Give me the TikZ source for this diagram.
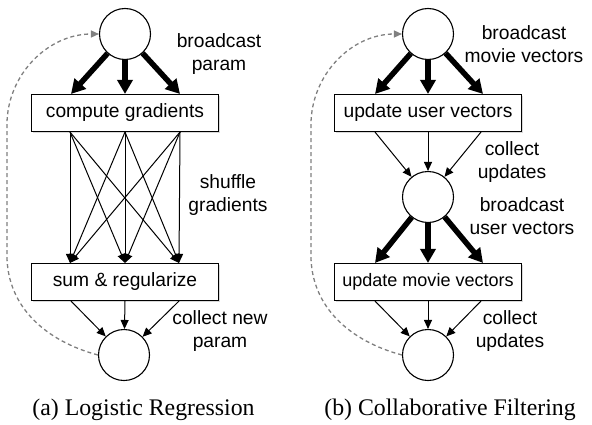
\documentclass[tikz,border=0pt]{standalone}
\usepackage{fontspec}
\setmainfont{Liberation Serif}
\setsansfont{Liberation Sans}
\usetikzlibrary{arrows, arrows.meta}
\usetikzlibrary{calc}
\usetikzlibrary{shadows}

\begin{document}
\begin{tikzpicture}[x=1bp, y=1bp,
    circ/.style={circle, draw, line width=1.1bp, minimum size=51bp, inner sep=0pt, fill=white},
    box/.style={rectangle, draw, line width=1.1bp, minimum width=187bp, minimum height=37bp, inner sep=0pt, fill=white,
      font=\sffamily\fontsize{19.3}{23}\selectfont,
      drop shadow={opacity=0.3, shadow xshift=1.2bp, shadow yshift=-1.2bp}},
    lbl/.style={align=center, inner sep=0pt, font=\sffamily\fontsize{19.3}{23}\selectfont},
    captxt/.style={inner sep=0pt, font=\fontsize{23.9}{28}\selectfont},
    fat/.style={line width=5.5bp, -{Triangle[length=14bp,width=15bp]}},
    slim/.style={line width=1bp, -{Triangle[length=9bp,width=8bp]}},
    loopback/.style={gray, line width=1.3bp, dash pattern=on 4bp off 3bp, -{Triangle[length=8bp,width=7bp]}}]
    \useasboundingbox (0,0) rectangle (592,424);

    % (a) logistic regression
    \node[circ] (1) at (125,390) {};
    \node[box] (2) at (125,311) {compute gradients};
    \node[box] (3) at (125,142) {sum \& regularize};
    \node[circ] (4) at (124,69) {};

    \foreach \a in {-54,0,55}
      \draw[fat] (1) -- ([xshift=\a bp]2.north);
    \foreach \a in {-55,0,55}
      \foreach \b in {-55,0,54}
        \draw[slim] ([xshift=\a bp]2.south) -- ([xshift=\b bp]3.north);
    \foreach \a in {-54,0,54}
      \draw[slim] ([xshift=\a bp]3.south) -- (4);
    \draw[loopback] (4.west) to[out=165,in=-90] ++(-91,100) -- ++(0,130) to[out=90,in=180] (1.west);

    \node[lbl] (l1) at (219,370) {broadcast\\param};
    \node[lbl] (l2) at (228,229) {shuffle\\gradients};
    \node[lbl] (l3) at (220,93) {collect new\\param};
    \node[captxt] (c1) at (143.5,14) {(a) Logistic Regression};

    % (b) collaborative filtering
    \node[circ] (5) at (428,390) {};
    \node[box] (6) at (428,311) {update user vectors};
    \node[circ] (7) at (428,227) {};
    \node[box, font=\sffamily\fontsize{18.1}{22}\selectfont] (8) at (428,142) {update movie vectors};
    \node[circ] (9) at (428,69) {};

    \foreach \a in {-53,0,55}
      \draw[fat] (5) -- ([xshift=\a bp]6.north);
    \foreach \a in {-53,0,53}
      \draw[slim] ([xshift=\a bp]6.south) -- (7);
    \foreach \a in {-53,0,55}
      \draw[fat] (7) -- ([xshift=\a bp]8.north);
    \foreach \a in {-53,0,53}
      \draw[slim] ([xshift=\a bp]8.south) -- (9);
    \draw[loopback] (9.west) to[out=165,in=-90] ++(-91,100) -- ++(0,130) to[out=90,in=180] (5.west);

    \node[lbl] (l4) at (524,380) {broadcast\\movie vectors};
    \node[lbl] (l5) at (512,262) {collect\\updates};
    \node[lbl] (l6) at (522,208) {broadcast\\user vectors};
    \node[lbl] (l7) at (510,93) {collect\\updates};
    \node[captxt] (c2) at (450,14) {(b) Collaborative Filtering};
  \end{tikzpicture}
\end{document}
